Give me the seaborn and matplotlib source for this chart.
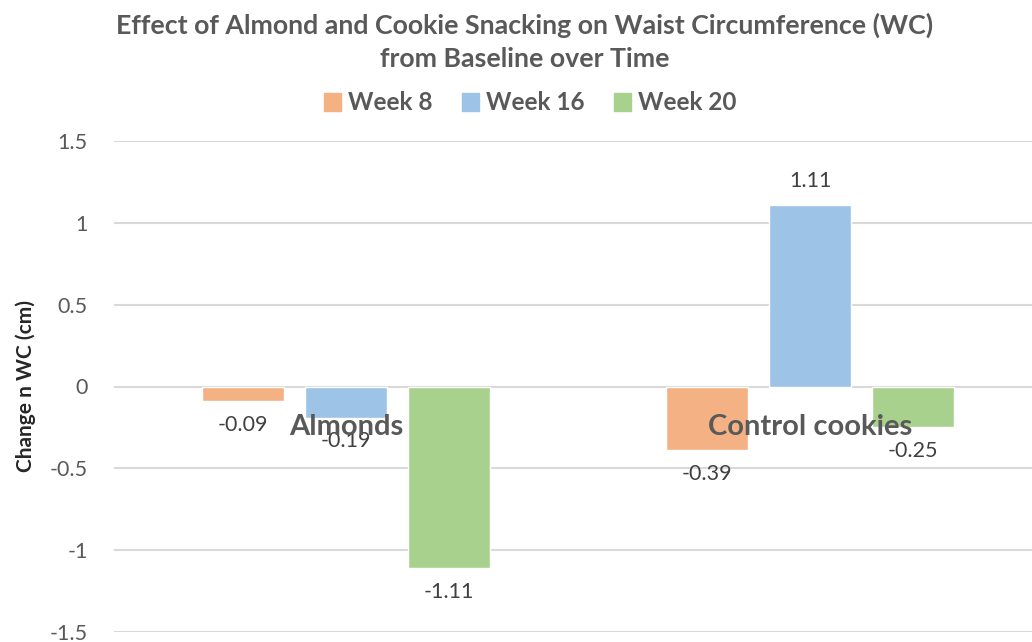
import matplotlib.pyplot as plt
import pandas as pd
import seaborn as sns

# chart values
groups = ["Almonds", "Control cookies"]
weeks = ["Week 8", "Week 16", "Week 20"]
week8 = [-0.09, -0.39]
week16 = [-0.19, 1.11]
week20 = [-1.11, -0.25]
yticks = [-1.5, -1, -0.5, 0, 0.5, 1, 1.5]

colors = ["#F4B183", "#9DC3E6", "#A9D18E"]
grey = "#595959"

df = pd.DataFrame({
    "group": groups * 3,
    "week": [w for w in weeks for _ in groups],
    "value": week8 + week16 + week20,
})

sns.set_style("white")
plt.rcParams["font.family"] = ["Lato", "DejaVu Sans"]

fig = plt.figure(figsize=(10.32, 6.42), dpi=100)
ax = fig.add_axes([114 / 1032, 10 / 642, 928 / 1032, 491 / 642])

sns.barplot(data=df, x="group", y="value", hue="week", order=groups,
            hue_order=weeks, palette=colors, width=0.666, gap=0.21,
            saturation=1, legend=False, ax=ax)

for cont in ax.containers:
    ax.bar_label(cont, fmt="%g", padding=10, fontsize=15.5, color="#404040")

ax.set_ylim(-1.5, 1.5)
ax.set_xlim(-0.5, 1.5)
ax.set_yticks(yticks)
ax.set_yticklabels([f"{t:g}" for t in yticks])
ax.yaxis.grid(True, color="#D9D9D9", linewidth=1.5)
ax.set_axisbelow(True)
ax.tick_params(axis="y", length=0, labelsize=15.5, labelcolor=grey, pad=19)
ax.set_xticks([])
ax.set_xlabel("")
ax.set_ylabel("Change n WC (cm)", fontsize=15, fontweight="bold",
              color="#262626", labelpad=10)
sns.despine(ax=ax, left=True, bottom=True)

# category names sit just under the zero line, as in the original
for i, g in enumerate(groups):
    ax.text(i, -0.25, g, ha="center", va="center", fontsize=21,
            fontweight="bold", color=grey)

fig.text(525 / 1032, 1 - 42 / 642,
         "Effect of Almond and Cookie Snacking on Waist Circumference (WC)\nfrom Baseline over Time",
         ha="center", va="center", fontsize=19.3, fontweight="bold",
         color=grey, linespacing=1.42)

handles = [plt.Rectangle((0, 0), 1, 1, color=c) for c in colors]
leg = fig.legend(handles, weeks, loc="center", ncol=3,
                 bbox_to_anchor=(530 / 1032, 1 - 103 / 642), frameon=False,
                 handlelength=0.7, handleheight=0.7, handletextpad=0.3,
                 columnspacing=1.2, prop={"size": 17.5, "weight": "bold"})
for t in leg.get_texts():
    t.set_color(grey)

fig.savefig("out.png", dpi=100)
